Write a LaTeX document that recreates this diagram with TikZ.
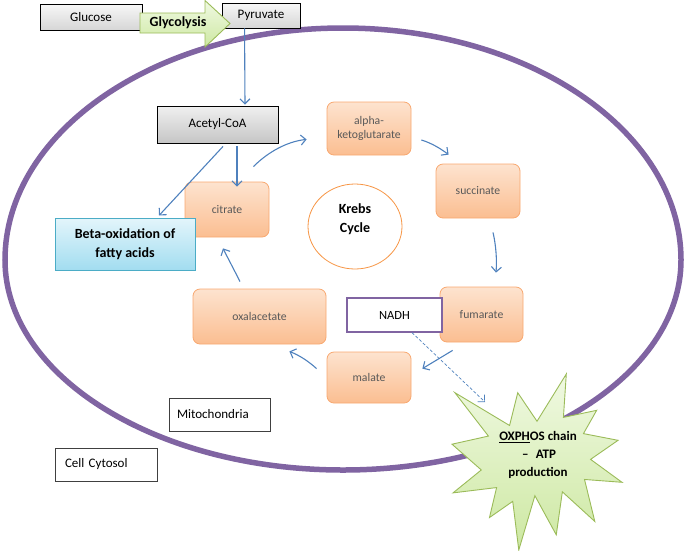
\documentclass[tikz,border=0pt]{standalone}
\usepackage{fontspec}
\setmainfont{Carlito}
\usetikzlibrary{shapes.geometric,arrows.meta,calc}
\definecolor{mitopurple}{HTML}{8064A2}
\definecolor{arrowblue}{HTML}{4F81BD}
\definecolor{orangeT}{HTML}{FDE3CF}
\definecolor{orangeB}{HTML}{FBBE91}
\definecolor{orangeD}{HTML}{F8A870}
\definecolor{krebsline}{HTML}{F79646}
\definecolor{textgray}{HTML}{595959}
\definecolor{blueT}{HTML}{E3F5FB}
\definecolor{blueB}{HTML}{A2DDF0}
\definecolor{blueD}{HTML}{4BACC6}
\definecolor{greenT}{HTML}{F0F9E2}
\definecolor{greenB}{HTML}{CDE8A2}
\definecolor{greenD}{HTML}{9BBB59}
\begin{document}
\begin{tikzpicture}[x=1pt,y=-1pt,
  graybox/.style={draw=black, line width=0.9pt, top color=gray!6, bottom color=gray!32,
    inner sep=0pt, font=\fontsize{13}{15}\selectfont},
  darkbox/.style={graybox, top color=gray!12, bottom color=gray!45},
  obox/.style={draw=orangeD, line width=0.8pt, rounded corners=7pt, top color=orangeT,
    bottom color=orangeB, text=textgray, align=center, inner sep=0pt,
    font=\fontsize{11.7}{14}\selectfont},
  bluebox/.style={draw=blueD, line width=1pt, top color=blueT, bottom color=blueB,
    align=center, inner sep=0pt, font=\bfseries\fontsize{14}{19.5}\selectfont},
  labelbox/.style={draw=black!75, line width=0.8pt, fill=white, align=left, inner ysep=0pt,
    font=\fontsize{13}{15}\selectfont},
  conn/.style={draw=arrowblue, line width=1.1pt, -{Straight Barb[length=5pt,width=10pt]}},
  thinconn/.style={draw=arrowblue, line width=0.7pt, densely dashed, -{Straight Barb[length=5pt,width=10pt]}},
  mitoline/.style={draw=mitopurple, line width=5.5pt}
]
\useasboundingbox (0,0) rectangle (685,550);

% mitochondrion membrane (slightly egg-shaped)
\draw[mitoline] (681,260) arc[start angle=0, end angle=180, x radius=338pt, y radius=232pt]
  arc[start angle=180, end angle=360, x radius=338pt, y radius=210pt] -- cycle;

% glucose / pyruvate
\node[graybox, minimum width=102pt, minimum height=26pt] (glu) at (91,17) {Glucose};
\node[graybox, minimum width=78pt, minimum height=25pt] (pyr) at (261,15.5) {Pyruvate};

% glycolysis arrow
\draw[draw=greenD, line width=0.9pt, top color=greenT, bottom color=greenB]
  (140,13) -- (205,13) -- (205,0.5) -- (230,23.5) -- (205,47) -- (205,33) -- (140,33) -- cycle;
\node[font=\bfseries\fontsize{14}{16}\selectfont, inner sep=0pt] (gly) at (178,23) {Glycolysis};

% boxes
\node[darkbox, minimum width=121pt, minimum height=37pt] (acetyl) at (217.5,124.5) {Acetyl-CoA};
\node[obox, minimum width=84pt, minimum height=55pt] (cit) at (227,209.5) {citrate};
\node[bluebox, minimum width=140pt, minimum height=52pt] (beta) at (125,244) {Beta-oxidation of\\fatty acids};
\node[obox, minimum width=84pt, minimum height=53pt] (alpha) at (369,128.5) {alpha-\\ketoglutarate};
\node[obox, minimum width=84pt, minimum height=54pt] (succ) at (478,191) {succinate};
\node[obox, minimum width=83pt, minimum height=55pt] (fum) at (481.5,314.5) {fumarate};
\node[draw=mitopurple, line width=1.2pt, fill=white, minimum width=95pt, minimum height=34pt,
  inner sep=0pt, font=\fontsize{12.5}{15}\selectfont] (nadh) at (394.5,315) {NADH};
\node[obox, minimum width=84pt, minimum height=51pt] (mal) at (369,377.5) {malate};
\node[obox, minimum width=133pt, minimum height=55pt] (oxal) at (259.5,316.5) {oxalacetate};
\node[ellipse, draw=krebsline, line width=0.8pt, fill=white, minimum width=94pt, minimum height=85pt,
  inner sep=0pt] (krebs) at (355,226.5) {};
\node[align=center, inner sep=0pt, font=\bfseries\fontsize{14}{19.5}\selectfont] (krebstxt) at (355,219) {Krebs\\Cycle};

\node[labelbox, text width=85pt, inner xsep=8pt, minimum height=33pt] (mito) at (219.5,414.5) {Mitochondria};
\node[labelbox, text width=82pt, inner xsep=10pt, minimum height=33pt] (cyto) at (106,464.5) {Cell Cytosol};

% connectors
\draw[conn] ($(pyr.south west)+(23,0)$) -- ($(acetyl.north)+(27.5,-1)$);
\draw[conn] ($(acetyl.south)+(19.5,3)$) -- ($(cit.north)+(10,5)$);
\draw[conn] ($(acetyl.south)+(5.5,3)$) -- ($(beta.north)+(34,-2)$);
\draw[conn] ($(cit.north east)+(-16,-15)$) .. controls +(15,-15) and +(-19,2) .. ($(alpha.south west)+(-20,-16)$);
\draw[conn] ($(alpha.east)+(10,11.5)$) .. controls +(10,3) and +(-8,-6) .. ($(succ.north west)+(13,-9)$);
\draw[conn] ($(succ.south)+(15,14)$) .. controls +(3,13) and +(1,-13) .. ($(fum.north)+(14.5,-14)$);
\draw[conn] ($(fum.south west)+(13,8)$) -- ($(mal.north east)+(11,17)$);
\draw[conn] ($(mal.north west)+(-10,17)$) .. controls +(-9,-8) and +(10,4) .. ($(oxal.south east)+(-37,7)$);
\draw[conn] ($(oxal.north)+(-19.5,-7)$) .. controls +(-6,-12) and +(5,10) .. ($(cit.south)+(-4,11)$);

% OXPHOS starburst
\begin{scope}[shift={(452,374)}, x=0.787037pt, y=-0.814815pt]
\draw[draw=greenD, line width=0.9pt, top color=greenT, bottom color=greenB]
 (108,58) -- (145.22,0) -- (141.55,53.25) -- (183.80,44.57) -- (167.02,73.15) -- (210.97,81.37)
 -- (176.07,104.75) -- (216,132.90) -- (168.37,129.42) -- (181.45,180.95) -- (140.20,144.57)
 -- (132.47,197.37) -- (105.32,149.35) -- (84.85,216) -- (77.15,156.27) -- (47.62,176.17)
 -- (56.67,139.37) -- (1.35,145.87) -- (37.22,117.75) -- (0,86.15) -- (46.27,76.17)
 -- (3.70,22.95) -- (73.12,63.20) -- (83.52,22.95) -- cycle;
\end{scope}
\node[align=center, inner sep=0pt, font=\bfseries\fontsize{13}{18}\selectfont] (oxphos) at (538,455)
  {\underline{OXPH}OS chain\\\,–\,\, ATP\\production};
\coordinate (oxin) at (485,402);
\draw[thinconn] ($(nadh.south)+(17.5,0)$) -- (oxin);
\end{tikzpicture}
\end{document}
